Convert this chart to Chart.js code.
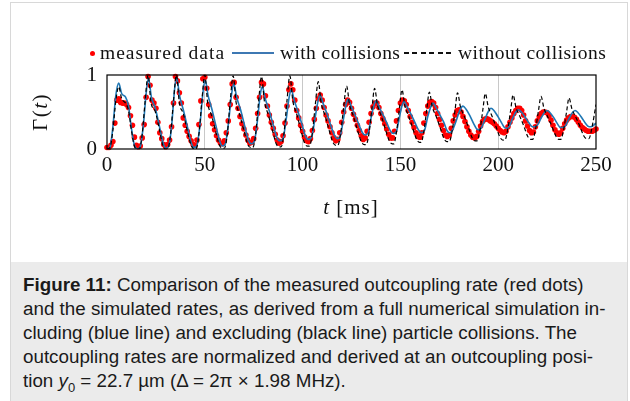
<!DOCTYPE html>
<html><head><meta charset="utf-8">
<script src="https://cdn.jsdelivr.net/npm/chart.js@4"></script>
<style>
html,body{margin:0;padding:0;background:#fff;}
#wrap{position:relative;width:630px;height:401px;overflow:hidden;background:#fff;}
#frame{position:absolute;left:10px;top:2px;width:618px;height:440px;border:1px solid #d8d8d8;box-sizing:border-box;}
#cv{position:absolute;left:0;top:0;}
.leg{position:absolute;top:42px;font-family:"Liberation Serif",serif;font-size:19.5px;color:#111;white-space:nowrap;line-height:22px;}
#dot{position:absolute;left:89.5px;top:50.5px;width:5px;height:5px;border-radius:50%;background:#f00;}
#bl{position:absolute;left:232px;top:52.3px;width:42px;height:1.6px;background:#3d78b3;}
#dl{position:absolute;left:404px;top:52.4px;width:49px;height:1.3px;background:repeating-linear-gradient(to right,#111 0 5px,transparent 5px 8.4px);}
.ax{position:absolute;font-family:"Liberation Serif",serif;font-size:21px;color:#111;white-space:nowrap;line-height:24px;transform:translate(-50%,-50%);}
#caption{position:absolute;left:11px;top:262px;width:616px;height:139px;background:#ebebeb;font-family:"Liberation Sans",Arial,sans-serif;font-size:18.8px;line-height:24px;color:#1a1a1a;padding:11px 0 0 12px;box-sizing:border-box;white-space:nowrap;}
</style>
</head><body>
<div id="wrap">
  <div id="frame"></div>
  <canvas id="cv" width="630" height="262"></canvas>
  <div id="dot"></div>
  <div class="leg" style="left:100px;letter-spacing:1px">measured data</div>
  <div id="bl"></div>
  <div class="leg" style="left:280px;letter-spacing:0.4px">with collisions</div>
  <div id="dl"></div>
  <div class="leg" style="left:458px;letter-spacing:0.5px">without collisions</div>
  <div class="ax" style="left:40px;top:112px;transform:translate(-50%,-50%) rotate(-90deg);letter-spacing:1.5px">Γ(<i>t</i>)</div>
  <div class="ax" style="left:351px;top:207px;letter-spacing:1px"><i>t</i> [ms]</div>
  <div id="caption"><b>Figure 11:</b> Comparison of the measured outcoupling rate (red dots)<br>and the simulated rates, as derived from a full numerical simulation in-<br>cluding (blue line) and excluding (black line) particle collisions. The<br>outcoupling rates are normalized and derived at an outcoupling posi-<br>tion <i>y</i><sub style="font-size:13px;line-height:0">0</sub> = 22.7 µm (Δ = 2π × 1.98 MHz).</div>
</div>
<script>
// x tick labels (ms) and y tick labels
const xTicks = [0, 50, 100, 150, 200, 250];
const yTicks = [0, 1];

// measured data: one sample per ms, t = 0 ... 250 ms
const measuredStepMs = 1;
const measured = [
0.02,0.02,0.05,0.10,0.35,0.66,0.68,0.63,0.62,0.62,
0.60,0.56,0.45,0.32,0.16,0.05,0.03,0.04,0.15,0.33,
0.70,0.98,0.86,0.66,0.62,0.55,0.36,0.22,0.14,0.06,
0.03,0.06,0.12,0.30,0.62,0.98,0.92,0.76,0.62,0.42,
0.32,0.24,0.17,0.11,0.06,0.05,0.12,0.33,0.65,0.95,
0.97,0.82,0.60,0.45,0.34,0.26,0.18,0.12,0.08,0.07,
0.11,0.22,0.38,0.60,0.88,0.90,0.70,0.55,0.44,0.34,
0.27,0.19,0.12,0.08,0.09,0.14,0.28,0.48,0.70,0.90,
0.88,0.72,0.58,0.46,0.36,0.28,0.20,0.12,0.08,0.10,
0.18,0.35,0.58,0.80,0.88,0.80,0.66,0.52,0.42,0.32,
0.24,0.16,0.11,0.10,0.14,0.25,0.40,0.55,0.68,0.73,
0.66,0.56,0.46,0.38,0.30,0.22,0.15,0.11,0.13,0.22,
0.36,0.50,0.60,0.66,0.63,0.55,0.47,0.40,0.32,0.25,
0.18,0.13,0.15,0.24,0.36,0.48,0.57,0.62,0.62,0.56,
0.48,0.41,0.34,0.27,0.20,0.15,0.15,0.24,0.38,0.52,
0.62,0.66,0.65,0.60,0.52,0.44,0.36,0.29,0.22,0.17,
0.16,0.22,0.35,0.48,0.58,0.63,0.64,0.62,0.56,0.48,
0.40,0.32,0.25,0.19,0.17,0.19,0.28,0.38,0.46,0.52,
0.53,0.50,0.44,0.37,0.30,0.24,0.19,0.16,0.15,0.17,
0.24,0.31,0.37,0.40,0.41,0.40,0.38,0.36,0.34,0.31,
0.28,0.25,0.23,0.22,0.24,0.30,0.36,0.42,0.48,0.52,
0.55,0.55,0.52,0.46,0.38,0.31,0.25,0.22,0.23,0.30,
0.38,0.44,0.48,0.50,0.50,0.49,0.45,0.39,0.32,0.26,
0.22,0.20,0.22,0.28,0.34,0.39,0.42,0.44,0.44,0.43,
0.40,0.36,0.32,0.29,0.27,0.25,0.24,0.24,0.24,0.25,
0.27];

// simulation without collisions (black dashed)
const noCollT = [0,1.5,3,4.5,6,7.5,9.5,11,12.5,14,15.5,16.5,
18,19.5,21,22.5,24.5,26.5,28.5,30,31,
32.5,34,35.5,37,39,41,43,44.5,45.5,
47,48.5,50,51.5,53.5,55.5,57.5,59,60,
61.5,63,64.5,66,68,70,72,73.5,74.5,
76,77.5,79,80.5,82.5,84.5,86.5,88,89,
90.5,92,93.5,95,97,99,101,102.5,103.5,
105,106.5,108,109.5,111.5,113.5,115.5,117,118,
119.5,121,122.5,124,126,128,130,131.5,132.5,
134,135.5,136.8,138.3,140.3,142.3,144.3,145.8,146.6,
148,149.5,150.8,152.3,154.3,156.3,158.3,159.8,160.6,
162,163.5,164.8,166.3,168.3,170.3,172.3,173.8,175,
176.5,178,179.2,180.7,182.7,184.7,186.7,188.2,189.2,
190.7,192.2,193.4,194.9,196.9,198.9,200.9,202.4,203.4,
204.9,206.4,207.6,209.1,211.1,213.1,215.1,216.6,217.6,
219.1,220.6,221.9,223.4,225.4,227.4,229.4,230.9,232,
233.5,235,236.2,237.7,239.7,241.7,243.7,245.3,246.4,
248,250];
const noCollY = [0,0.02,0.25,0.65,0.84,0.68,0.62,0.52,0.25,0.04,0,0,
0.2,0.65,1.0,0.62,0.52,0.30,0.05,0,0,
0.2,0.65,1.0,0.62,0.48,0.25,0.05,0,0,
0.2,0.65,1.0,0.62,0.45,0.24,0.05,0.01,0.01,
0.2,0.65,0.99,0.63,0.45,0.25,0.06,0.02,0.02,
0.2,0.64,0.98,0.64,0.46,0.26,0.07,0.03,0.03,
0.22,0.65,0.99,0.65,0.47,0.27,0.08,0.04,0.04,
0.22,0.60,0.91,0.62,0.45,0.26,0.09,0.05,0.05,
0.22,0.57,0.85,0.60,0.44,0.26,0.10,0.06,0.06,
0.22,0.56,0.82,0.59,0.44,0.27,0.11,0.07,0.07,
0.23,0.55,0.80,0.58,0.44,0.28,0.13,0.09,0.09,
0.24,0.54,0.77,0.57,0.44,0.29,0.14,0.10,0.10,
0.25,0.54,0.76,0.57,0.44,0.30,0.15,0.11,0.11,
0.26,0.54,0.75,0.57,0.44,0.30,0.16,0.12,0.12,
0.27,0.53,0.73,0.56,0.44,0.31,0.17,0.13,0.13,
0.27,0.52,0.71,0.55,0.43,0.31,0.18,0.13,0.13,
0.27,0.51,0.69,0.54,0.43,0.31,0.18,0.14,0.14,
0.30,0.60];

// simulation with collisions (blue)
const collT = [0,1.5,3,4.5,6,7.5,9.5,11,12.5,14,15.5,
17,18.5,20.2,21.2,22.7,24.7,26.7,28.7,30,
31.5,33,34.6,35.6,37.1,39.1,41.1,43.1,44.5,
46,47.5,49.2,50.2,51.7,53.7,55.7,57.7,59,
60.5,62,63.8,64.8,66.3,68.3,70.3,72.3,73.8,
75.3,76.8,78.4,79.4,80.9,82.9,84.9,86.9,88.4,
90,91.5,93.2,94.2,95.7,97.7,99.7,101.7,103,
104.6,106.2,107.9,108.9,110.4,112.4,114.4,116.4,117.8,
119.2,120.8,122.3,123.3,124.8,126.8,128.8,130.6,132,
133.5,135,136.6,137.6,139.1,141.1,143.1,145,146.4,
148,149.5,150.9,151.9,153.4,155.4,157.4,159.2,160.6,
162.3,164,165.7,166.7,168.2,170.2,172.2,173.8,175,
176.5,178.5,180.5,182,183.5,185.5,187.5,189,190,
191.5,193.2,195,196.3,197.8,199.8,201.8,203.2,204.3,
205.8,207.3,209,210.3,211.8,213.8,215.8,217.5,218.5,
220,221.8,223.6,225,226.5,228.5,230.3,231.8,232.8,
234.3,236,237.9,239.3,240.8,242.8,244.8,246.5,247.5,
250];
const collY = [0,0.02,0.3,0.72,0.89,0.75,0.70,0.58,0.28,0.05,0.0,
0.03,0.3,0.8,0.96,0.70,0.55,0.32,0.08,0.01,
0.04,0.3,0.82,0.97,0.72,0.52,0.30,0.08,0.02,
0.05,0.32,0.80,0.93,0.72,0.53,0.31,0.10,0.04,
0.07,0.33,0.76,0.88,0.70,0.53,0.32,0.12,0.07,
0.10,0.36,0.74,0.84,0.68,0.52,0.33,0.15,0.11,
0.14,0.38,0.71,0.80,0.66,0.50,0.33,0.16,0.13,
0.16,0.39,0.65,0.73,0.62,0.48,0.32,0.18,0.14,
0.17,0.39,0.61,0.67,0.58,0.46,0.33,0.22,0.19,
0.22,0.42,0.60,0.65,0.57,0.46,0.35,0.24,0.21,
0.24,0.43,0.59,0.64,0.57,0.47,0.36,0.26,0.22,
0.25,0.44,0.58,0.62,0.56,0.46,0.36,0.25,0.22,
0.25,0.38,0.53,0.58,0.54,0.45,0.34,0.27,0.26,
0.29,0.40,0.51,0.55,0.52,0.44,0.35,0.29,0.28,
0.31,0.41,0.50,0.53,0.50,0.43,0.35,0.30,0.30,
0.32,0.41,0.49,0.52,0.49,0.42,0.34,0.29,0.29,
0.31,0.40,0.49,0.52,0.49,0.42,0.34,0.30,0.30,
0.35];

const pts = (ts, ys) => ts.map((t, i) => ({x: t, y: ys[i]}));

const framePlugin = {
  id: 'frame',
  afterDatasetsDraw(chart) {
    const {ctx, chartArea: a} = chart;
    ctx.save();
    ctx.strokeStyle = '#000';
    ctx.lineWidth = 1.2;
    ctx.strokeRect(a.left, a.top, a.right - a.left, a.bottom - a.top);
    ctx.restore();
  }
};

new Chart(document.getElementById('cv'), {
  type: 'line',
  data: {
    datasets: [
      {label: 'without collisions', data: pts(noCollT, noCollY), borderColor: '#000', borderWidth: 1.2,
       borderDash: [4, 2.6], pointRadius: 0, cubicInterpolationMode: 'monotone', fill: false, order: 0},
      {label: 'with collisions', data: pts(collT, collY), borderColor: '#1f77b4', borderWidth: 1.6,
       pointRadius: 0, cubicInterpolationMode: 'monotone', fill: false, order: 1},
      {label: 'measured data', data: measured.map((v, i) => ({x: i * measuredStepMs, y: v})), showLine: false,
       pointRadius: 2.8, pointBackgroundColor: '#ff0000', pointBorderWidth: 0, order: 2, clip: false}
    ]
  },
  options: {
    responsive: false, animation: false, devicePixelRatio: 1,
    layout: {padding: {top: 75, right: 34, left: 0, bottom: 0}},
    plugins: {legend: {display: false}, tooltip: {enabled: false}},
    scales: {
      x: {
        type: 'linear', min: xTicks[0], max: xTicks[xTicks.length - 1],
        afterFit(s) { s.height = 113; },
        afterBuildTicks(s) { s.ticks = xTicks.map(v => ({value: v})); },
        ticks: {autoSkip: false, maxRotation: 0, padding: 4, color: '#111',
                font: {family: 'Liberation Serif', size: 21, lineHeight: 1.2}},
        grid: {drawTicks: false, lineWidth: 1,
               color: c => (c.tick && (c.tick.value === 0 || c.tick.value === 250)) ? 'rgba(0,0,0,0)' : '#c8c8c8'},
        border: {display: false}
      },
      y: {
        min: 0, max: 1,
        afterFit(s) { s.width = 107; },
        afterBuildTicks(s) { s.ticks = yTicks.map(v => ({value: v})); },
        ticks: {padding: 10, color: '#111', font: {family: 'Liberation Serif', size: 21, lineHeight: 1.2}},
        grid: {display: false, drawTicks: false},
        border: {display: false}
      }
    }
  },
  plugins: [framePlugin]
});
</script>
</body></html>
